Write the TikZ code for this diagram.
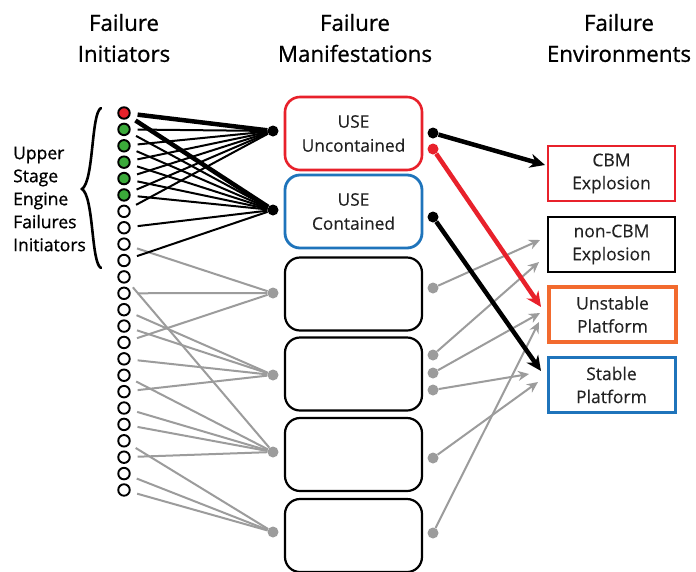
\documentclass[tikz,border=0pt]{standalone}
\usepackage{fontspec}
\setmainfont{Open Sans}
\newfontfamily\hdrfont[FakeBold=0.9]{Open Sans}
\newfontfamily\txtfont[FakeBold=0.3]{Open Sans}
\usetikzlibrary{arrows.meta}
\definecolor{cred}{HTML}{E8212B}
\definecolor{cgreen}{HTML}{3BAA3A}
\definecolor{cblue}{HTML}{1F74BB}
\definecolor{corange}{HTML}{F26A2E}
\definecolor{cgray}{HTML}{9C9C9C}
\definecolor{ctext}{HTML}{222222}
\tikzset{
  hdr/.style={align=center, inner sep=0pt, font=\hdrfont\fontsize{22.3}{31}\selectfont},
  lbl/.style={align=left, inner sep=0pt, font=\hdrfont\fontsize{17.5}{23}\selectfont},
  icirc/.style={circle, draw=black, line width=1.9pt, minimum size=11.5pt, inner sep=0pt},
  bdot/.style={circle, fill=black, minimum size=11pt, inner sep=0pt},
  gdot/.style={circle, fill=cgray, minimum size=11pt, inner sep=0pt},
  rdot/.style={circle, fill=cred, minimum size=11pt, inner sep=0pt},
  mbox/.style={rectangle, rounded corners=15pt, minimum width=137pt, minimum height=73pt,
     line width=2.2pt, draw=black, align=center, text=ctext, font=\txtfont\fontsize{17.3}{24}\selectfont, inner sep=0pt},
  ebox/.style={rectangle, minimum width=127pt, minimum height=55pt,
     line width=2pt, draw=black, align=center, text=ctext, font=\txtfont\fontsize{17.5}{23}\selectfont, inner sep=0pt},
  thinb/.style={draw=black, line width=2pt, shorten <=7pt},
  thickb/.style={draw=black, line width=4.5pt, shorten <=7pt},
  grl/.style={draw=cgray, line width=2pt, shorten <=7pt},
  barr/.style={draw=black, line width=4.5pt, -{Stealth[length=15pt,width=14pt]}},
  rarr/.style={draw=cred, line width=4.5pt, -{Stealth[length=15pt,width=14pt]}},
  garr/.style={draw=cgray, line width=2pt, -{Stealth[length=11pt,width=10pt]}}
}
\begin{document}
\begin{tikzpicture}[x=1pt,y=-1pt]
\useasboundingbox[fill=white] (0,0) rectangle (696,571);

% headers
\node[hdr] (h1) at (124,38) {Failure\\Initiators};
\node[hdr] (h2) at (355,38) {Failure\\Manifestations};
\node[hdr] (h3) at (619,38) {Failure\\Environments};

% left label and brace
\node[lbl, anchor=west] (ul) at (13,199) {Upper\\Stage\\Engine\\Failures\\Initiators};
\draw[line width=2.6pt, line cap=round] (101,108) .. controls (91,113) and (94,181) .. (82,189)
   .. controls (94,197) and (91,263) .. (101,268);

% initiators
\foreach \i in {0,...,23}{
  \ifnum\i=0 \def\fc{cred}\else\ifnum\i<6 \def\fc{cgreen}\else\def\fc{white}\fi\fi
  \node[icirc, fill=\fc] (i\i) at (124,{113+16.39*\i}) {};
}

% manifestation input dots
\node[bdot] (A) at (273,131) {};
\node[bdot] (B) at (273,210) {};
\node[gdot] (C) at (273,293) {};
\node[gdot] (D) at (273,375) {};
\node[gdot] (E) at (273,452) {};
\node[gdot] (F) at (273,532) {};

% manifestation boxes
\node[mbox, draw=cred, line width=2.6pt] (m1) at (353.5,133.5) {USE\\Uncontained};
\node[mbox, draw=cblue, line width=2.8pt] (m2) at (353.5,211.5) {USE\\Contained};
\node[mbox] (m3) at (353.5,294) {};
\node[mbox] (m4) at (353.5,374) {};
\node[mbox] (m5) at (353.5,454.5) {};
\node[mbox] (m6) at (353.5,535.5) {};

% environment boxes
\node[ebox, draw=cred, line width=2.5pt] (e1) at (611.5,173.5) {CBM\\Explosion};
\node[ebox] (e2) at (611.5,244.5) {non-CBM\\Explosion};
\node[ebox, draw=corange, line width=4pt] (e3) at (612.5,314.5) {Unstable\\Platform};
\node[ebox, draw=cblue, line width=3pt] (e4) at (611.5,385) {Stable\\Platform};

% left connectors (gray)
\foreach \s/\t in {8/C,11/C,14/C,12/D,13/D,15/D,17/D,10/E,16/E,18/E,19/E,21/E,20/F,22/F,23/F}
  \draw[grl] (i\s) -- (\t);
% left connectors (black)
\foreach \s in {1,...,5}{
  \draw[thinb] (i\s) -- (A);
  \draw[thinb] (i\s) -- (B);
}
\draw[thinb] (i6) -- (A);
\draw[thinb] (i7) -- (B);
\draw[thinb] (i9) -- (B);
\draw[thickb] (i0) -- (A);
\draw[thickb] (i0) -- (B);

% output dots
\node[bdot] (o1) at (433,133) {};
\node[rdot] (o1r) at (433,149) {};
\node[bdot] (o2) at (433,217) {};
\node[gdot] (o3) at (433,288) {};
\node[gdot] (o4a) at (433,355) {};
\node[gdot] (o4b) at (433,373) {};
\node[gdot] (o4c) at (433,390) {};
\node[gdot] (o5) at (433,458) {};
\node[gdot] (o6) at (433,533) {};

% arrow end points
\coordinate (t1) at (545,165);
\coordinate (t2) at (541,307);
\coordinate (t3) at (541,371);
\coordinate (t4) at (540,240);
\coordinate (t5) at (539,262);
\coordinate (t6) at (540,313);
\coordinate (t7) at (529,374);
\coordinate (t8) at (538,382);
\coordinate (t9) at (539,322);

\draw[garr] (o3) -- (t4);
\draw[garr] (o4a) -- (t5);
\draw[garr] (o4b) -- (t6);
\draw[garr] (o4c) -- (t7);
\draw[garr] (o5) -- (t8);
\draw[garr] (o6) -- (t9);
\draw[barr] (o2) -- (t3);
\draw[rarr] (o1r) -- (t2);
\draw[barr] (o1) -- (t1);
\end{tikzpicture}
\end{document}
